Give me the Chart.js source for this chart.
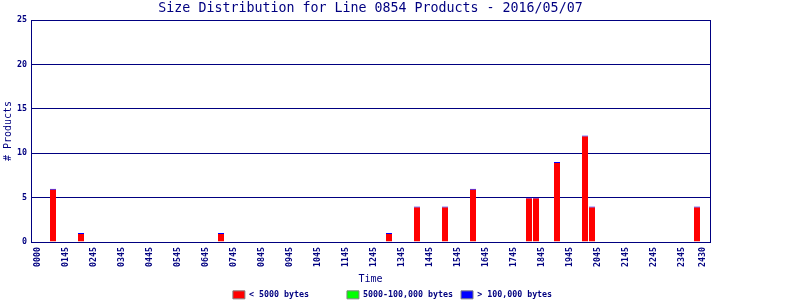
<!DOCTYPE html>
<html>
<head>
<meta charset="utf-8">
<script src="https://cdn.jsdelivr.net/npm/chart.js@4.4.1/dist/chart.umd.min.js"></script>
<style>
  html, body { margin: 0; padding: 0; background: #fff; }
</style>
</head>
<body>
<canvas id="myChart" width="800" height="300"></canvas>
<script>
// 15 minute slots along the day, only the non-empty ones
const slots = [2, 6, 26, 50, 54, 58, 62, 70, 71, 74, 78, 79, 94];
const smallCounts = [6, 1, 1, 1, 4, 4, 6, 5, 5, 9, 12, 4, 4];
const mediumCounts = [0, 0, 0, 0, 0, 0, 0, 0, 0, 0, 0, 0, 0];
const largeCounts = [0, 0, 0, 0, 0, 0, 0, 0, 0, 0, 0, 0, 0];

const tickSlots = [0, 4, 8, 12, 16, 20, 24, 28, 32, 36, 40, 44, 48, 52, 56, 60, 64, 68, 72, 76, 80, 84, 88, 92, 95];
const tickLabels = ["0000", "0145", "0245", "0345", "0445", "0545", "0645", "0745", "0845", "0945", "1045", "1145",
  "1245", "1345", "1445", "1545", "1645", "1745", "1845", "1945", "2045", "2145", "2245", "2345", "2430"];
const seriesNames = ["< 5000 bytes", "5000-100,000 bytes", "> 100,000 bytes"];

const navy = "#000080";
const mono = "DejaVu Sans Mono";
const tiny = { family: mono, size: 8.3, weight: "bold", lineHeight: 1 };

function points(values) {
  return slots.map((s, i) => ({ x: s, y: values[i] }));
}

const ctx = document.getElementById("myChart").getContext("2d");
const myChart = new Chart(ctx, {
  type: "bar",
  data: {
    datasets: [
      {
        label: seriesNames[0],
        data: points(smallCounts),
        backgroundColor: "#ff0000",
        borderColor: "#0000ff",
        borderWidth: { top: 1, right: 0, bottom: 0, left: 0 },
        borderSkipped: false,
      },
      { label: seriesNames[1], data: points(mediumCounts), backgroundColor: "#00ff00", borderWidth: 0 },
      { label: seriesNames[2], data: points(largeCounts), backgroundColor: "#0000ff", borderWidth: 0 },
    ],
  },
  options: {
    responsive: false,
    animation: false,
    barThickness: 6,
    inflateAmount: 0,
    layout: { padding: { left: 0, right: 0, top: 0, bottom: -9 } },
    plugins: {
      title: {
        display: true,
        text: "Size Distribution for Line 0854 Products - 2016/05/07",
        color: navy,
        fullSize: false,
        font: { family: mono, size: 13.3, weight: "normal", lineHeight: 1 },
        padding: { top: 2, bottom: 4.7 },
      },
      legend: {
        position: "bottom",
        labels: {
          boxWidth: 12,
          boxHeight: 8,
          padding: 8,
          color: navy,
          font: tiny,
          generateLabels: (chart) =>
            chart.data.datasets.map((ds, i) => ({
              text: ds.label.padEnd(18, " "),
              fillStyle: ds.backgroundColor,
              strokeStyle: "#808080",
              lineWidth: 1,
              fontColor: navy,
              hidden: false,
              datasetIndex: i,
            })),
        },
      },
      tooltip: { enabled: false },
    },
    scales: {
      x: {
        type: "linear",
        stacked: true,
        offset: false,
        min: -8 / 7,
        max: 97 - 8 / 7,
        grid: { display: false, drawTicks: false },
        border: { color: navy },
        afterBuildTicks: (scale) => {
          scale.ticks = tickSlots.map((v) => ({ value: v }));
        },
        afterFit: (scale) => {
          scale.height = 40.7;
        },
        ticks: {
          autoSkip: false,
          minRotation: 90,
          maxRotation: 90,
          padding: 5,
          labelOffset: -1.5,
          color: navy,
          font: tiny,
          callback: (v, i) => tickLabels[i],
        },
        title: {
          display: true,
          text: "Time",
          color: navy,
          font: { family: mono, size: 10, lineHeight: 1 },
          padding: { top: 0, bottom: -2 },
        },
      },
      y: {
        stacked: true,
        min: 0,
        max: 25,
        ticks: { stepSize: 5, padding: 4, color: navy, font: tiny },
        grid: { color: navy, drawTicks: false },
        border: { color: navy },
        afterFit: (scale) => {
          scale.width = 31;
        },
        title: {
          display: true,
          text: "# Products",
          color: navy,
          font: { family: mono, size: 10, lineHeight: 1.2 },
          padding: { top: 2, bottom: 0 },
        },
      },
      yRight: {
        position: "right",
        display: true,
        ticks: { display: false },
        grid: { display: false },
        border: { color: navy },
        afterFit: (scale) => {
          scale.width = 90;
        },
      },
    },
  },
});
</script>
</body>
</html>
